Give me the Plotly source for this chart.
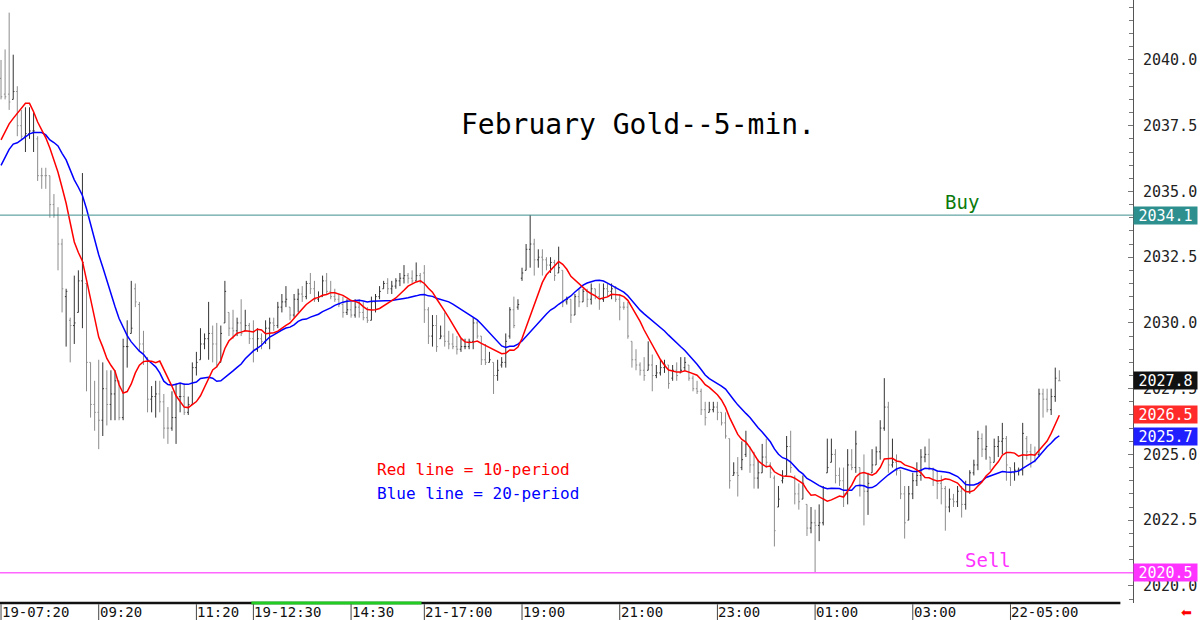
import plotly.graph_objects as go
import pandas as pd

# ---------------- data (5-min bars, index 0 = 19-07:20) ----------------
OPEN = [2039.3,2038.7,2038.7,2038.5,2038.8,2037.5,2037.1,2037.2,2037.3,2037.0,
        2035.6,2035.6,2035.6,2034.5,2034.1,2033.0,2031.0,2030.1,2029.9,2030.4,
        2031.6,2031.5,2028.5,2026.9,2026.6,2026.3,2027.5,2026.9,2027.3,2027.8,
        2026.4,2029.1,2029.6,2031.3,2030.7,2029.2,2028.6,2027.1,2027.2,2027.3,
        2027.0,2026.0,2026.0,2026.4,2027.2,2027.2,2026.6,2026.9,2028.3,2028.6,
        2029.2,2029.4,2029.6,2029.2,2028.5,2030.0,2030.4,2029.8,2029.7,2030.0,
        2029.7,2029.9,2029.4,2029.0,2029.4,2029.3,2029.8,2030.0,2029.9,2030.6,
        2030.8,2030.6,2030.3,2030.9,2031.1,2031.0,2031.5,2031.3,2030.9,2031.0,
        2031.6,2031.2,2031.0,2030.9,2030.7,2030.4,2030.5,2030.3,2030.6,2030.4,
        2030.2,2030.1,2030.8,2031.0,2031.3,2031.5,2031.3,2031.4,2031.6,2031.7,
        2031.8,2031.7,2031.6,2031.8,2031.9,2030.5,2029.5,2029.9,2029.4,2029.5,
        2029.3,2029.2,2029.1,2029.0,2029.1,2029.1,2029.3,2030.0,2029.5,2028.6,
        2028.5,2028.5,2028.0,2028.4,2028.5,2029.5,2030.5,2030.6,2031.7,2032.0,
        2032.8,2033.0,2032.4,2032.5,2032.4,2032.2,2032.3,2031.9,2032.0,2030.8,
        2030.9,2030.3,2031.0,2030.8,2031.2,2030.9,2031.3,2031.0,2030.9,2031.3,
        2031.2,2031.3,2030.9,2030.6,2030.6,2029.3,2028.6,2028.4,2028.2,2028.2,
        2028.4,2028.0,2028.1,2028.3,2028.4,2027.9,2028.2,2028.1,2028.3,2028.4,
        2027.9,2027.5,2027.4,2026.7,2026.6,2026.7,2026.8,2026.6,2026.2,2025.6,
        2024.2,2024.3,2024.5,2025.0,2025.3,2024.6,2024.1,2024.3,2024.9,2024.6,
        2024.1,2023.0,2024.0,2024.2,2025.3,2024.1,2023.5,2023.3,2023.1,2022.2,
        2022.4,2022.3,2022.4,2024.3,2024.7,2025.0,2024.2,2024.0,2023.5,2024.6,
        2024.5,2024.5,2023.8,2023.6,2024.3,2024.6,2025.1,2026.0,2026.8,2024.6,
        2024.7,2024.4,2023.5,2022.5,2023.5,2024.0,2024.2,2024.9,2025.0,2024.4,
        2024.0,2023.9,2023.7,2023.0,2023.3,2023.2,2023.6,2023.1,2023.6,2024.3,
        2024.6,2025.6,2025.2,2024.9,2024.7,2025.3,2025.5,2025.6,2024.5,2024.3,
        2024.4,2024.4,2025.6,2025.1,2025.0,2025.0,2027.3,2027.1,2026.7,2027.2,
        2027.8]
HIGH = [2040.0,2040.4,2041.8,2040.2,2039.0,2038.1,2038.2,2038.2,2038.0,2037.1,
        2035.9,2035.9,2035.6,2034.9,2034.4,2033.2,2031.3,2030.2,2031.8,2032.0,
        2035.7,2031.5,2028.5,2027.8,2028.6,2028.5,2028.2,2028.2,2028.2,2027.8,
        2029.4,2030.1,2031.6,2031.5,2030.8,2029.7,2028.7,2027.6,2027.8,2027.8,
        2027.3,2026.8,2027.4,2027.7,2027.7,2027.7,2027.2,2028.5,2028.9,2029.8,
        2029.6,2030.8,2029.9,2030.0,2029.9,2031.6,2030.4,2030.5,2030.2,2030.9,
        2030.5,2030.0,2030.1,2029.8,2029.6,2030.1,2030.2,2030.2,2030.8,2031.1,
        2031.4,2030.6,2031.1,2031.3,2031.4,2031.6,2031.9,2031.6,2031.2,2031.8,
        2031.9,2031.6,2031.3,2031.1,2031.0,2030.9,2030.8,2030.9,2030.9,2030.8,
        2030.6,2031.0,2031.1,2031.4,2031.6,2031.7,2031.6,2031.7,2031.9,2032.2,
        2031.9,2032.0,2032.3,2031.9,2032.2,2030.6,2030.3,2030.3,2029.9,2030.4,
        2029.7,2029.6,2029.5,2029.4,2029.4,2029.4,2030.2,2030.1,2029.5,2029.2,
        2028.9,2028.5,2028.6,2028.7,2029.6,2030.6,2031.0,2030.9,2032.1,2033.0,
        2034.1,2033.2,2032.8,2032.8,2032.5,2032.5,2032.4,2032.9,2032.0,2031.0,
        2030.9,2031.1,2031.3,2031.3,2031.3,2031.5,2031.3,2031.5,2031.5,2031.5,
        2031.5,2031.4,2031.1,2030.8,2030.8,2029.3,2029.0,2028.5,2028.7,2029.3,
        2028.8,2028.4,2028.6,2028.6,2028.4,2028.4,2028.5,2028.7,2028.7,2028.4,
        2028.0,2027.8,2027.5,2027.0,2027.0,2027.0,2027.0,2026.6,2026.6,2025.6,
        2024.7,2024.9,2025.5,2025.9,2025.3,2025.1,2024.8,2025.4,2025.6,2024.7,
        2024.2,2023.8,2024.4,2025.7,2025.9,2024.2,2023.9,2024.2,2023.1,2023.0,
        2022.9,2023.1,2023.8,2025.6,2025.6,2025.2,2024.5,2024.5,2025.2,2025.2,
        2025.9,2024.5,2025.0,2024.3,2025.2,2025.3,2026.3,2027.9,2027.0,2025.6,
        2025.0,2024.4,2023.8,2023.8,2024.3,2024.7,2025.2,2025.3,2025.6,2024.5,
        2024.4,2024.2,2023.8,2023.7,2023.5,2023.8,2023.8,2024.0,2024.4,2024.8,
        2025.9,2025.8,2026.1,2024.9,2025.6,2025.7,2026.2,2025.7,2024.5,2024.7,
        2024.5,2026.2,2025.7,2025.4,2025.3,2027.5,2027.5,2027.5,2027.5,2028.3,
        2028.2]
LOW  = [2038.5,2038.5,2038.1,2038.5,2037.1,2037.0,2036.5,2037.0,2036.5,2035.4,
        2035.1,2035.1,2034.0,2034.0,2032.0,2030.4,2029.1,2028.5,2029.2,2030.4,
        2029.8,2027.4,2026.4,2025.9,2025.2,2025.7,2026.1,2026.3,2026.3,2026.3,
        2026.3,2028.3,2029.6,2030.6,2028.9,2028.4,2026.6,2026.6,2026.4,2026.6,
        2025.6,2025.4,2025.9,2025.4,2026.6,2026.5,2026.5,2026.9,2028.0,2028.6,
        2029.0,2028.6,2028.5,2028.3,2028.5,2030.0,2029.5,2029.4,2029.5,2029.5,
        2029.7,2029.2,2028.5,2028.9,2029.0,2029.2,2029.0,2029.7,2029.8,2030.4,
        2030.6,2030.1,2030.2,2030.4,2030.8,2030.9,2031.1,2030.8,2030.8,2031.0,
        2031.1,2030.9,2030.8,2030.6,2030.2,2030.3,2030.2,2030.2,2030.2,2030.1,
        2030.0,2030.1,2030.4,2030.9,2031.3,2031.1,2031.1,2031.3,2031.4,2031.5,
        2031.5,2031.5,2031.6,2031.5,2030.0,2029.2,2029.1,2028.9,2029.4,2029.1,
        2029.0,2029.0,2028.8,2028.9,2029.0,2029.0,2029.0,2029.4,2028.4,2028.4,
        2028.5,2027.3,2027.8,2028.3,2028.3,2029.4,2029.8,2030.5,2031.6,2032.0,
        2032.1,2031.8,2032.1,2031.8,2032.0,2031.9,2031.6,2031.9,2030.6,2030.7,
        2030.0,2030.3,2030.6,2030.8,2030.6,2030.7,2030.9,2030.5,2030.8,2031.0,
        2030.9,2030.8,2030.1,2030.5,2029.4,2028.3,2028.2,2028.0,2027.8,2028.2,
        2027.4,2027.9,2028.0,2028.1,2027.5,2027.8,2027.8,2028.1,2028.2,2027.8,
        2027.4,2027.3,2026.5,2026.1,2026.6,2026.6,2026.3,2026.1,2025.6,2023.7,
        2024.2,2023.4,2024.4,2024.9,2024.3,2023.7,2023.7,2024.3,2024.5,2024.1,
        2021.5,2023.0,2023.9,2024.2,2024.3,2023.1,2022.9,2023.3,2021.9,2022.0,
        2020.5,2021.7,2022.3,2024.3,2024.7,2023.9,2023.8,2023.0,2023.1,2024.4,
        2024.3,2023.4,2022.3,2022.7,2024.3,2024.6,2024.8,2025.9,2024.3,2024.5,
        2024.2,2023.3,2021.8,2022.5,2023.3,2023.8,2024.0,2024.7,2024.4,2023.8,
        2023.3,2023.1,2022.1,2022.8,2023.0,2023.0,2022.6,2022.9,2023.5,2024.2,
        2024.4,2024.9,2024.8,2024.4,2024.7,2024.9,2025.0,2024.0,2023.8,2024.0,
        2024.2,2024.2,2024.8,2024.5,2024.7,2024.9,2026.4,2026.6,2026.5,2027.0,
        2027.8]
CLOSE = [2038.6,2038.6,2038.4,2038.8,2037.5,2037.1,2037.2,2037.3,2037.3,2035.6,
         2035.6,2035.6,2034.5,2034.1,2033.0,2031.3,2031.2,2029.9,2030.0,2031.6,
         2032.3,2028.5,2026.9,2026.6,2026.3,2027.5,2026.9,2027.3,2027.8,2026.4,
         2029.1,2029.1,2029.8,2030.8,2029.2,2028.9,2027.1,2027.2,2027.3,2027.0,
         2026.0,2026.0,2026.4,2027.2,2027.2,2026.6,2026.9,2028.3,2028.5,2029.2,
         2029.4,2029.6,2029.2,2028.4,2029.6,2031.2,2029.8,2029.7,2030.0,2029.6,
         2029.9,2029.4,2029.0,2029.4,2029.3,2029.8,2030.0,2029.9,2030.6,2030.8,
         2030.9,2030.3,2030.9,2031.1,2031.0,2031.5,2031.3,2030.9,2031.0,2031.6,
         2031.2,2031.0,2030.9,2030.7,2030.4,2030.5,2030.3,2030.6,2030.4,2030.2,
         2030.1,2030.8,2031.0,2031.2,2031.5,2031.3,2031.4,2031.6,2031.7,2031.8,
         2031.7,2031.6,2031.8,2031.6,2030.5,2029.5,2029.9,2029.1,2029.5,2029.3,
         2029.2,2029.1,2029.0,2029.1,2029.1,2029.3,2030.0,2029.5,2028.6,2028.5,
         2028.6,2028.0,2028.2,2028.5,2029.3,2030.5,2029.9,2030.7,2031.9,2032.8,
         2033.0,2032.4,2032.5,2032.4,2032.2,2032.3,2031.8,2032.1,2030.8,2030.9,
         2030.3,2031.0,2030.8,2031.2,2030.9,2031.3,2031.0,2030.9,2031.3,2031.2,
         2031.3,2030.9,2030.6,2030.6,2029.5,2028.6,2028.4,2028.2,2028.0,2028.4,
         2028.0,2028.1,2028.3,2028.4,2027.7,2028.2,2028.0,2028.2,2028.5,2027.9,
         2027.5,2027.4,2026.7,2026.4,2026.7,2026.8,2026.6,2026.2,2025.7,2024.0,
         2024.3,2024.2,2024.8,2025.4,2024.6,2024.1,2024.3,2024.9,2024.7,2024.3,
         2022.1,2023.3,2024.1,2025.3,2024.5,2023.5,2023.2,2023.9,2022.2,2022.4,
         2022.3,2022.4,2023.3,2024.5,2025.0,2024.2,2024.0,2023.5,2024.6,2024.5,
         2025.4,2023.8,2023.6,2023.9,2024.6,2025.1,2026.0,2026.8,2024.6,2024.7,
         2024.4,2023.5,2022.4,2023.5,2024.0,2024.2,2024.9,2025.0,2024.5,2024.0,
         2023.9,2023.7,2023.0,2023.3,2023.2,2023.6,2023.1,2023.6,2024.3,2024.6,
         2025.6,2025.2,2025.3,2024.7,2025.3,2025.5,2025.6,2024.6,2024.3,2024.4,
         2024.4,2025.8,2025.1,2025.0,2025.0,2027.3,2027.1,2026.7,2027.2,2027.9,
         2027.8]

# moving-average values before enough bars are on screen
RED_LEAD = [2036.96,2037.28,2037.57,2037.78,2037.97,2038.20,2038.35,2038.35,2038.03]
BLUE_LEAD = [2035.99,2036.30,2036.60,2036.80,2036.85,2036.96,2037.08,2037.19,2037.24,
             2037.24,2037.24,2037.15,2036.96,2036.86,2036.73,2036.45,2036.20,2035.82,2035.44]

TICK_IDX = [0, 24, 48, 62, 86, 104, 128, 152, 176, 200, 224, 248]
TICK_TXT = ["19-07:20", "09:20", "11:20", "19-12:30", "14:30", "21-17:00",
            "19:00", "21:00", "23:00", "01:00", "03:00", "22-05:00"]

BUY = 2034.1
SELL = 2020.5
LAST = 2027.8

Y_TICKS = [2020.0, 2022.5, 2025.0, 2027.5, 2030.0, 2032.5, 2035.0, 2037.5, 2040.0]

# ---------------- build ----------------
n = len(CLOSE)
X = list(range(n))
cs = pd.Series(CLOSE)
red = cs.rolling(10).mean().tolist()
blue = cs.rolling(20).mean().tolist()
red[:len(RED_LEAD)] = RED_LEAD
blue[:len(BLUE_LEAD)] = BLUE_LEAD

MONO = "DejaVu Sans Mono"

fig = go.Figure()
fig.add_trace(go.Ohlc(x=X, open=OPEN, high=HIGH, low=LOW, close=CLOSE,
                      increasing=dict(line=dict(color="#333333", width=1)),
                      decreasing=dict(line=dict(color="#8c8c8c", width=1)),
                      tickwidth=0.3, showlegend=False, hoverinfo="skip"))
fig.add_trace(go.Scatter(x=X, y=blue, mode="lines", line=dict(color="#0000ff", width=1.5),
                         showlegend=False, hoverinfo="skip"))
fig.add_trace(go.Scatter(x=X, y=red, mode="lines", line=dict(color="#ff0000", width=1.5),
                         showlegend=False, hoverinfo="skip"))

shapes = [
    dict(type="line", xref="paper", x0=0, x1=1, yref="y", y0=BUY, y1=BUY,
         line=dict(color="#3f8f8f", width=1)),
    dict(type="line", xref="paper", x0=0, x1=1, yref="y", y0=SELL, y1=SELL,
         line=dict(color="#ff66ff", width=1.5)),
    dict(type="line", xref="x", x0=-0.25, x1=275, yref="paper", y0=0, y1=0,
         line=dict(color="#111111", width=2.5)),
    dict(type="line", xref="x", x0=61.5, x1=103.3, yref="paper", y0=0, y1=0,
         line=dict(color="#22cc22", width=3)),
]
annotations = []
for idx, txt in zip(TICK_IDX, TICK_TXT):
    shapes.append(dict(type="line", xref="x", x0=idx, x1=idx, yref="paper",
                       y0=-0.002, y1=-0.03, line=dict(color="#444444", width=1)))
    annotations.append(dict(x=idx, xref="x", y=0, yref="paper", text=txt,
                            xanchor="left", yanchor="bottom", xshift=0, yshift=-18,
                            borderpad=0, showarrow=False,
                            font=dict(family=MONO, size=14, color="#111111")))

annotations += [
    dict(x=0.563, y=0.793, xref="paper", yref="paper", text="February Gold--5-min.",
         xanchor="center", yanchor="middle",
         showarrow=False, font=dict(family=MONO, size=28, color="#000000")),
    dict(x=0.331, y=0.221, xref="paper", yref="paper", text="Red line = 10-period",
         xanchor="left", yanchor="middle",
         showarrow=False, font=dict(family=MONO, size=16, color="#ff0000")),
    dict(x=0.331, y=0.181, xref="paper", yref="paper", text="Blue line = 20-period",
         xanchor="left", yanchor="middle",
         showarrow=False, font=dict(family=MONO, size=16, color="#0000ff")),
    dict(x=236, y=BUY, xref="x", yref="y", text="Buy", yanchor="bottom", yshift=0,
         showarrow=False, font=dict(family=MONO, size=19, color="#0b7a0b")),
    dict(x=242.5, y=SELL, xref="x", yref="y", text="Sell", yanchor="bottom", yshift=0,
         showarrow=False, font=dict(family=MONO, size=19, color="#ff33ff")),
    dict(x=1.0, y=0, xref="paper", yref="paper", text="⬅",
         xanchor="left", yanchor="top", xshift=47, yshift=-1, borderpad=0,
         showarrow=False, font=dict(family="DejaVu Sans", size=13, color="#ff0000")),
]

def price_box(val, bg):
    return dict(x=1.0, y=val, xref="paper", yref="y", text=f"{val:.1f}",
                xanchor="left", yanchor="middle", showarrow=False, width=61, height=15,
                bgcolor=bg, borderpad=1, font=dict(family=MONO, size=15, color="#ffffff"))

annotations += [
    price_box(BUY, "#2e8f8f"),
    price_box(LAST, "#111111"),
    price_box(round(red[-1], 1), "#ff2a2a"),
    price_box(round(blue[-1], 1), "#1f1fff"),
    price_box(SELL, "#ff33ff"),
]

fig.update_layout(
    width=1200, height=620,
    margin=dict(l=0, r=67, t=0, b=17),
    paper_bgcolor="#ffffff", plot_bgcolor="#ffffff",
    shapes=shapes, annotations=annotations,
    xaxis=dict(range=[-0.25, 278.1], showticklabels=False, showgrid=False,
               zeroline=False, showline=False, ticks="", rangeslider=dict(visible=False)),
    yaxis=dict(range=[2019.35, 2042.28], side="right", showgrid=False, zeroline=False,
               showline=True, linecolor="#555555", linewidth=1,
               tickvals=Y_TICKS, ticktext=[f"{v:.1f}" for v in Y_TICKS],
               ticks="inside", ticklen=5, tickcolor="#777777", ticklabelstandoff=6,
               minor=dict(dtick=0.5, tick0=2020, ticks="inside", ticklen=4, tickcolor="#777777"),
               tickfont=dict(family=MONO, size=15, color="#222222")),
)

fig.write_html("out.html")
